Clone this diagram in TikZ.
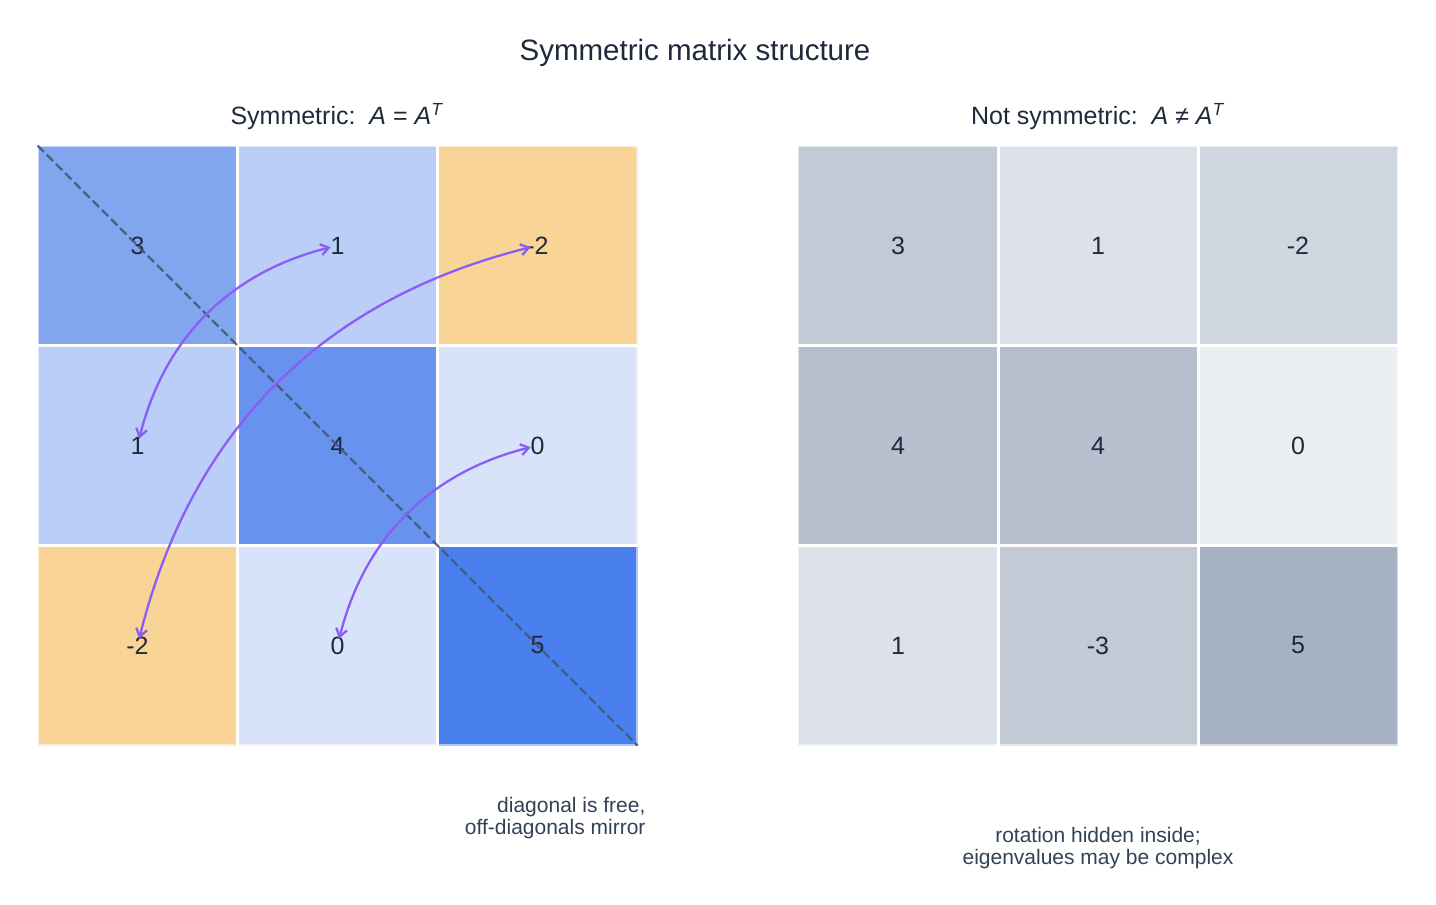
\documentclass[tikz,border=0pt]{standalone}
\usepackage{fontspec}
\setmainfont{Liberation Sans}
\usetikzlibrary{arrows.meta}
\definecolor{txt}{HTML}{1E293B}
\definecolor{note}{HTML}{334155}
\definecolor{diagc}{HTML}{475569}
\definecolor{arrc}{HTML}{8B5CF6}
\definecolor{bv5}{HTML}{4A7FEE}
\definecolor{bv4}{HTML}{6792EE}
\definecolor{bv3}{HTML}{82A5F0}
\definecolor{bv1}{HTML}{BBCEF7}
\definecolor{bv0}{HTML}{D8E3FA}
\definecolor{ov2}{HTML}{F9D497}
\definecolor{g5}{HTML}{A6B1C3}
\definecolor{g4}{HTML}{B5BFCD}
\definecolor{g3}{HTML}{C2CAD6}
\definecolor{g2}{HTML}{CFD6E0}
\definecolor{g1}{HTML}{DDE2EA}
\definecolor{g0}{HTML}{EBEEF2}
\begin{document}
\begin{tikzpicture}[x=1pt,y=-1pt,
  cell/.style={minimum size=200pt, inner sep=0pt, outer sep=0pt,
    font=\fontsize{25}{30}\selectfont, text=txt},
  gridline/.style={white, line width=3pt},
  outerline/.style={white, opacity=0.55, line width=2.5pt},
  diagline/.style={diagc, opacity=0.85, line width=2.2pt, dash pattern=on 9pt off 4pt},
  mirror/.style={arrc, line width=2.3pt, shorten >=7pt, shorten <=7pt,
    {Straight Barb[length=8pt,width=11pt]}-{Straight Barb[length=8pt,width=11pt]}},
  subtitle/.style={font=\fontsize{25}{30}\selectfont, text=txt},
  notetext/.style={font=\fontsize{21}{22}\selectfont, text=note}]
\useasboundingbox (0,0) rectangle (1436,905);

\node[font=\fontsize{29.5}{34}\selectfont, text=txt] (title) at (695,52.5) {Symmetric matrix structure};

\node[subtitle] (subL) at (337,117) {Symmetric:\ \ \textit{A} = \textit{A}\textsuperscript{\textit{T}}};
\node[subtitle] (subR) at (1098,117) {Not symmetric:\ \ \textit{A} ≠ \textit{A}\textsuperscript{\textit{T}}};

% left matrix
\node[cell, fill=bv3] (L00) at (137.5,245.5) {3};
\node[cell, fill=bv1] (L01) at (337.5,245.5) {1};
\node[cell, fill=ov2] (L02) at (537.5,245.5) {-2};
\node[cell, fill=bv1] (L10) at (137.5,445.5) {1};
\node[cell, fill=bv4] (L11) at (337.5,445.5) {4};
\node[cell, fill=bv0] (L12) at (537.5,445.5) {0};
\node[cell, fill=ov2] (L20) at (137.5,645.5) {-2};
\node[cell, fill=bv0] (L21) at (337.5,645.5) {0};
\node[cell, fill=bv5] (L22) at (537.5,645.5) {5};

% right matrix
\node[cell, fill=g3] (R00) at (898,245.5) {3};
\node[cell, fill=g1] (R01) at (1098,245.5) {1};
\node[cell, fill=g2] (R02) at (1298,245.5) {-2};
\node[cell, fill=g4] (R10) at (898,445.5) {4};
\node[cell, fill=g4] (R11) at (1098,445.5) {4};
\node[cell, fill=g0] (R12) at (1298,445.5) {0};
\node[cell, fill=g1] (R20) at (898,645.5) {1};
\node[cell, fill=g3] (R21) at (1098,645.5) {-3};
\node[cell, fill=g5] (R22) at (1298,645.5) {5};

% grid lines
\foreach \m in {L,R}{
  \draw[gridline] (\m00.north east) -- (\m20.south east);
  \draw[gridline] (\m01.north east) -- (\m21.south east);
  \draw[gridline] (\m00.south west) -- (\m02.south east);
  \draw[gridline] (\m10.south west) -- (\m12.south east);
  \draw[outerline] (\m00.north west) rectangle (\m22.south east);
}

% diagonal
\draw[diagline] (L00.north west) -- (L22.south east);

% mirror arrows
\draw[mirror] (L10.center) to[bend left=31] (L01.center);
\draw[mirror] (L20.center) to[bend left=31] (L02.center);
\draw[mirror] (L21.center) to[bend left=31] (L12.center);

% notes
\node[notetext, align=right, anchor=east] (noteL) at (649,818) {diagonal is free,\\off-diagonals mirror};
\node[notetext, align=center] (noteR) at (1098,848) {rotation hidden inside;\\eigenvalues may be complex};
\end{tikzpicture}
\end{document}
